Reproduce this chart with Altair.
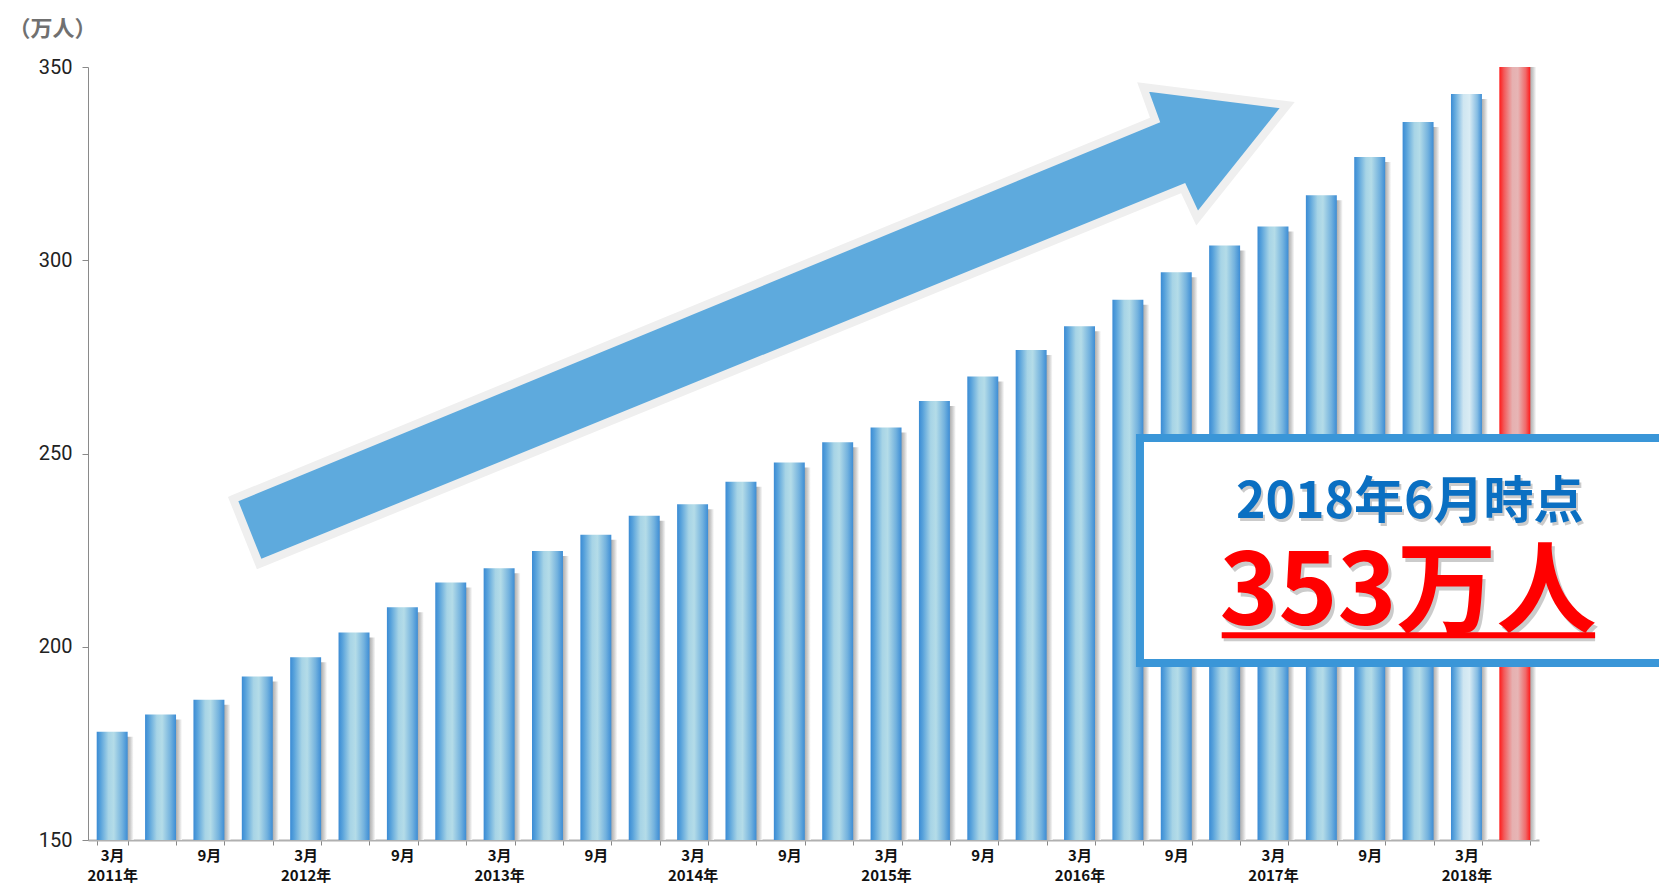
import json
import altair as alt
import pandas as pd

# ---------------- data ----------------
PERIODS = [
    "2011年3月", "2011年6月", "2011年9月", "2011年12月",
    "2012年3月", "2012年6月", "2012年9月", "2012年12月",
    "2013年3月", "2013年6月", "2013年9月", "2013年12月",
    "2014年3月", "2014年6月", "2014年9月", "2014年12月",
    "2015年3月", "2015年6月", "2015年9月", "2015年12月",
    "2016年3月", "2016年6月", "2016年9月", "2016年12月",
    "2017年3月", "2017年6月", "2017年9月", "2017年12月",
    "2018年3月", "2018年6月",
]
VALUES = [
    178.0, 182.5, 186.3, 192.3,
    197.3, 203.7, 210.2, 216.6,
    220.3, 224.8, 229.0, 233.9,
    236.9, 242.7, 247.7, 252.9,
    256.7, 263.6, 269.9, 276.8,
    282.9, 289.8, 296.9, 303.8,
    308.7, 316.8, 326.7, 335.8,
    343.0, 353.0,
]
TICK_LABELS = [
    "3月\n2011年", "", "9月", "",
    "3月\n2012年", "", "9月", "",
    "3月\n2013年", "", "9月", "",
    "3月\n2014年", "", "9月", "",
    "3月\n2015年", "", "9月", "",
    "3月\n2016年", "", "9月", "",
    "3月\n2017年", "", "9月", "",
    "3月\n2018年", "",
]
Y_TICKS = [150, 200, 250, 300, 350]
Y_UNIT = "（万人）"
BOX_LINE1 = "2018年6月時点"
BOX_LINE2 = "353万人"

n = len(PERIODS)
kinds = ["normal"] * n
kinds[-2] = "latest"
kinds[-1] = "current"
df = pd.DataFrame({"period": PERIODS, "value": VALUES, "kind": kinds})

# ---------------- styles ----------------
JP = "Noto Sans CJK JP"
YDOM = [150, 350]


def grad(stops):
    return alt.Gradient(
        gradient="linear", x1=0, x2=1, y1=0, y2=0,
        stops=[alt.GradientStop(color=c, offset=o) for o, c in stops],
    )


blue_grad = grad([(0, "#3a8bd4"), (0.12, "#56a1db"), (0.38, "#a7d4e6"),
                  (0.55, "#b4dce8"), (0.82, "#73b2de"), (1, "#3d8dd5")])
pale_grad = grad([(0, "#3a8bd4"), (0.15, "#6aaedf"), (0.4, "#cfe6f1"),
                  (0.6, "#d9ecf4"), (0.85, "#86bde3"), (1, "#3d8dd5")])
red_grad = grad([(0, "#ff1a1a"), (0.15, "#f25a5a"), (0.42, "#e6b0b0"),
                 (0.6, "#e7b5b5"), (0.85, "#f06a6a"), (1, "#ff1a1a")])
shadow_grad = grad([(0, "#8e8e8e"), (0.75, "#9a9a9a"), (0.9, "#d0d0d0"), (1, "#ffffff")])

label_expr = "{}[indexof({}, datum.value)]".format(
    json.dumps([t.split("\n") for t in TICK_LABELS], ensure_ascii=False),
    json.dumps(PERIODS, ensure_ascii=False),
)

xscale = alt.Scale(paddingInner=0.36, paddingOuter=0.18)
yscale = alt.Scale(domain=YDOM, nice=False, zero=False)

xaxis = alt.Axis(
    title=None, labelAngle=0, labelExpr=label_expr, tickBand="extent",
    domainColor="#b0b0b0", domainWidth=2, tickColor="#888888", tickSize=5,
    labelFont=JP, labelFontSize=15, labelFontWeight="bold", labelColor="#111111",
    labelPadding=3, labelLineHeight=20, labelBaseline="top",
)
yaxis = alt.Axis(
    values=Y_TICKS, title=Y_UNIT, titleAngle=0, titleX=-36, titleY=-39,
    titleAlign="center", titleBaseline="middle", titleFont=JP,
    titleFontSize=22, titleFontWeight="bold", titleColor="#707070",
    domainColor="#8a8a8a", tickColor="#8a8a8a", tickSize=6, grid=False,
    labelFont="Roboto", labelFontSize=20, labelColor="#222222", labelPadding=10,
)

base = alt.Chart(df).encode(
    x=alt.X("period:N", sort=PERIODS, scale=xscale, axis=xaxis),
    y=alt.Y("value:Q", scale=yscale, axis=yaxis),
    y2=alt.datum(YDOM[0]),
)

shadow = base.mark_bar(clip=True, xOffset=6, yOffset=5, color=shadow_grad)
bars_n = base.transform_filter("datum.kind == 'normal'").mark_bar(clip=True, color=blue_grad)
bars_l = base.transform_filter("datum.kind == 'latest'").mark_bar(clip=True, color=pale_grad)
bars_c = base.transform_filter("datum.kind == 'current'").mark_bar(clip=True, color=red_grad)
bars = alt.layer(shadow, bars_n, bars_l, bars_c)

# ---- annotation overlay (x in band-index units) ----
oxs = alt.Scale(domain=[0, n], nice=False, zero=False)


def ox(f):
    return alt.X(f"{f}:Q", scale=oxs, axis=None)


def oy(f):
    return alt.Y(f"{f}:Q", scale=yscale, axis=None)


ARROW_PATH = ("M-13,-32.5 L909,-411.5 L897,-444.5 L1041,-426.5 "
              "L951,-313.5 L937,-343.5 L13,32.5 Z")
arrow = alt.Chart(pd.DataFrame({"ax": [3.27], "ay": [229.8]})).mark_point(
    shape=ARROW_PATH, size=4, filled=True, opacity=1, fill="#5eaadd",
    stroke="#efefef", strokeWidth=8, strokeJoin="miter",
).encode(x=ox("ax"), y=oy("ay"))

box = alt.Chart(pd.DataFrame({"bx": [21.75], "bx2": [34.0], "by": [254.0], "by2": [195.8]})).mark_rect(
    fill="#ffffff", stroke="#3a96d8", strokeWidth=8, clip=False,
).encode(x=ox("bx"), x2="bx2:Q", y=oy("by"), y2="by2:Q")

t1 = pd.DataFrame({"tx": [27.33], "ty": [233.3], "t": [BOX_LINE1]})
t2 = pd.DataFrame({"tx": [27.29], "ty": [205.6], "t": [BOX_LINE2]})


def txt(d, size, color, dx=0, dy=0, opacity=1.0):
    return alt.Chart(d).mark_text(
        font=JP, fontSize=size, fontWeight="bold", color=color, align="center",
        baseline="alphabetic", dx=dx, dy=dy, opacity=opacity,
    ).encode(x=ox("tx"), y=oy("ty"), text="t:N")


ul = pd.DataFrame({"ux": [23.44], "ux2": [31.16], "uy": [203.0]})
underline_sh = alt.Chart(ul).mark_rule(color="#999999", strokeWidth=6, opacity=0.5, xOffset=2, yOffset=3).encode(
    x=ox("ux"), x2="ux2:Q", y=oy("uy"))
underline = alt.Chart(ul).mark_rule(color="#ff0000", strokeWidth=6).encode(
    x=ox("ux"), x2="ux2:Q", y=oy("uy"))

chart = alt.layer(
    bars,
    arrow, box,
    txt(t1, 50, "#999999", 2, 3, 0.5), txt(t1, 50, "#0a6fc2"),
    txt(t2, 100, "#999999", 3, 4, 0.5), underline_sh, txt(t2, 100, "#ff0000"), underline,
).resolve_scale(x="independent", y="independent").properties(
    width=1451, height=773,
    autosize=alt.AutoSizeParams(type="none"),
    padding={"left": 80, "top": 59, "right": 120, "bottom": 48},
    background="#ffffff",
).configure_view(strokeWidth=0)

chart.save("out.html", embed_options={"renderer": "svg", "actions": False})
